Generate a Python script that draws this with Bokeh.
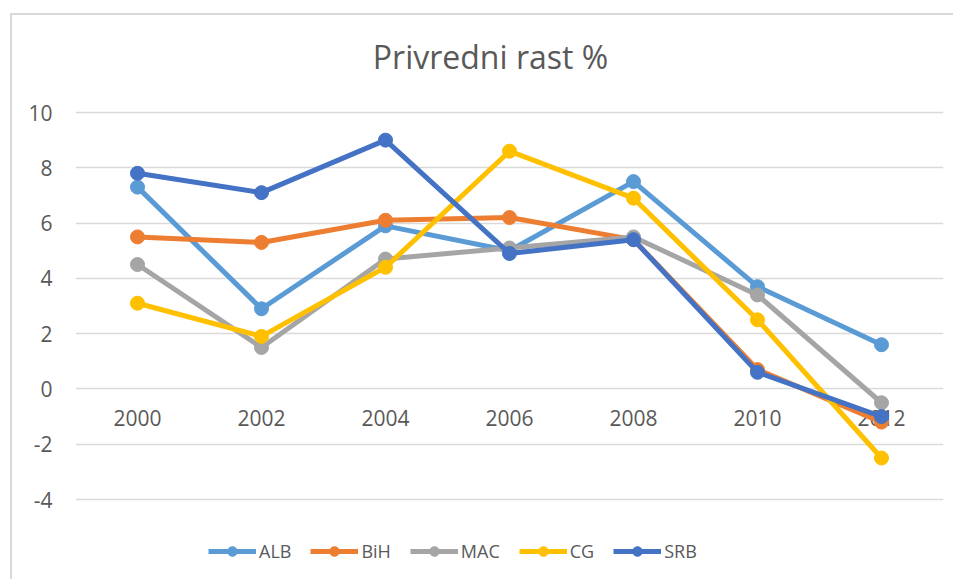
from bokeh.plotting import figure
from bokeh.models import FactorRange, Range1d, FixedTicker, Legend, LegendItem, Label
from bokeh.core.properties import value
from bokeh.embed import file_html
from bokeh.resources import INLINE

years = ["2000", "2002", "2004", "2006", "2008", "2010", "2012"]
alb = [7.3, 2.9, 5.9, 5.0, 7.5, 3.7, 1.6]
bih = [5.5, 5.3, 6.1, 6.2, 5.4, 0.7, -1.2]
mac = [4.5, 1.5, 4.7, 5.1, 5.5, 3.4, -0.5]
cg = [3.1, 1.9, 4.4, 8.6, 6.9, 2.5, -2.5]
srb = [7.8, 7.1, 9.0, 4.9, 5.4, 0.6, -1.0]
series_names = ["ALB", "BiH", "MAC", "CG", "SRB"]
series_values = [alb, bih, mac, cg, srb]
colors = ["#5B9BD5", "#ED7D31", "#A5A5A5", "#FFC000", "#4472C4"]
y_ticks = [-4, -2, 0, 2, 4, 6, 8, 10]
x_axis_cross = [0] * len(years)
title_text = "Privredni rast %"

FONT = "Open Sans"
TXT = "#595959"

p = figure(
    x_range=FactorRange(factors=years, range_padding=0),
    y_range=Range1d(-6.966, 13.509),
    width=943, height=566,
    output_backend="svg", toolbar_location=None,
    title_location=None, x_axis_location=None,
    min_border_left=63, min_border_right=12, min_border_top=0, min_border_bottom=0,
)
p.styles = {"margin-left": "10px", "margin-top": "13px",
            "border-left": "2px solid #d9d9d9", "border-top": "2px solid #d9d9d9"}
p.outline_line_color = None
p.background_fill_color = "white"
p.border_fill_color = "white"

p.xgrid.grid_line_color = None
p.xgrid.visible = False
p.ygrid.grid_line_color = "#d9d9d9"
p.ygrid.grid_line_width = 1.5
p.ygrid.ticker = FixedTicker(ticks=y_ticks)

p.yaxis.ticker = FixedTicker(ticks=y_ticks)
p.yaxis.major_label_overrides = {v: str(v) for v in y_ticks}
p.yaxis.axis_line_color = None
p.yaxis.major_tick_line_color = None
p.yaxis.minor_tick_line_color = None
p.yaxis.major_label_standoff = 17
p.yaxis.major_label_text_font = FONT
p.yaxis.major_label_text_font_size = "21px"
p.yaxis.major_label_text_color = TXT

# category labels sit under the zero line, as in the Excel chart
p.text(x=years, y=x_axis_cross, text=years, y_offset=29,
       text_align="center", text_baseline="alphabetic",
       text_font=value(FONT), text_font_size="21px", text_color=TXT)

items = []
for name, vals, c in zip(series_names, series_values, colors):
    r1 = p.line(years, vals, line_color=c, line_width=5, line_join="round")
    r2 = p.scatter(years, vals, size=14, fill_color=c, line_color=c)
    items.append(LegendItem(label=name, renderers=[r1, r2]))

legend = Legend(items=items, orientation="horizontal", location=(133, 18),
                glyph_width=48, glyph_height=24, label_height=24,
                label_standoff=3, spacing=19,
                padding=0, margin=0, border_line_color=None, background_fill_alpha=0,
                label_text_font=FONT, label_text_font_size="18px", label_text_color=TXT)
p.add_layout(legend, "center")

title = Label(x=415, y=525, x_units="screen", y_units="screen", text=title_text,
              text_align="center", text_baseline="alphabetic",
              text_font=FONT, text_font_size="32px", text_color=TXT)
p.add_layout(title)

open("out.html", "w").write(file_html(p, INLINE))
